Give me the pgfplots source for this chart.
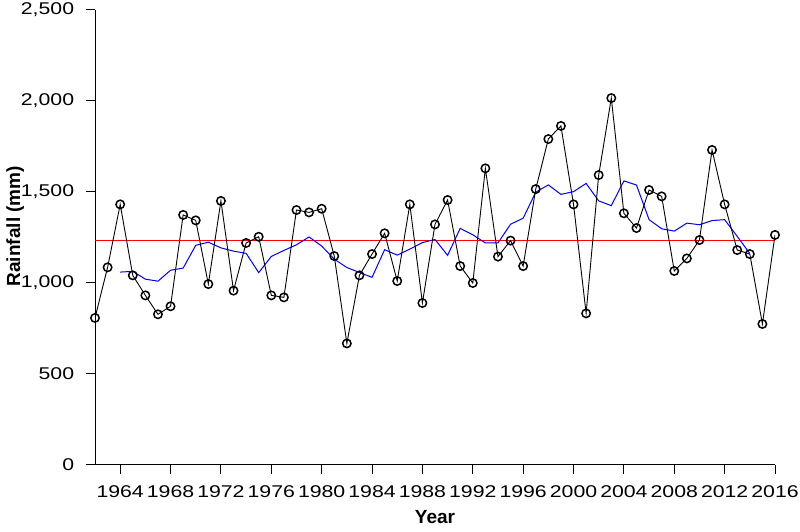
\documentclass[border=0pt]{standalone}
\usepackage{fontspec}
\setmainfont{Liberation Sans}
\newfontfamily\tickfont[FakeStretch=1.25]{Liberation Sans}
\usepackage{pgfplots}
\pgfplotsset{compat=1.18}
\begin{document}
\begin{tikzpicture}
\useasboundingbox (0,0) rectangle (800pt,532pt);
\begin{axis}[
 at={(95pt,67pt)}, anchor=south west,
 scale only axis, width=680pt, height=455pt,
 xmin=1962, xmax=2016, ymin=0, ymax=2500,
 axis x line*=bottom, axis y line*=left,
 axis line style={line width=1pt, black},
 tick align=outside, major tick length=9pt,
 tick style={line width=1pt, black},
 xtick={1964,1968,...,2016},
 ytick={0,500,...,2500},
 scaled y ticks=false,
 /pgf/number format/assume math mode=true,
 x tick label style={/pgf/number format/1000 sep=, font=\tickfont\fontsize{17}{20}\selectfont, inner sep=0pt, anchor=north, yshift=-11pt},
 y tick label style={/pgf/number format/1000 sep={,}, font=\tickfont\fontsize{17}{20}\selectfont, inner sep=0pt, anchor=east, xshift=-11.7pt},
 xlabel={Year}, ylabel={Rainfall (mm)},
 label style={font=\bfseries\fontsize{19}{22}\selectfont},
 x label style={at={(axis description cs:0.5,-0.129)}, anchor=base},
 y label style={at={(axis description cs:-0.1175,0.525)}, anchor=center},
]
\addplot[red, line width=1pt] coordinates {(1962,1234) (2016,1234)};
\addplot[blue, line width=1pt] coordinates {
(1964,1060) (1965,1064) (1966,1021) (1967,1010) (1968,1070) (1969,1082)
(1970,1207) (1971,1224) (1972,1193) (1973,1175) (1974,1163) (1975,1057)
(1976,1146) (1977,1179) (1978,1210) (1979,1253) (1980,1203) (1981,1131)
(1982,1085) (1983,1058) (1984,1031) (1985,1183) (1986,1153) (1987,1186)
(1988,1222) (1989,1239) (1990,1152) (1991,1300) (1992,1265) (1993,1220)
(1994,1220) (1995,1323) (1996,1356) (1997,1499) (1998,1539) (1999,1487)
(2000,1502) (2001,1547) (2002,1451) (2003,1425) (2004,1561) (2005,1538)
(2006,1348) (2007,1298) (2008,1285) (2009,1329) (2010,1320) (2011,1343)
(2012,1348) (2013,1256) (2014,1162)};
\addplot[black, line width=0.9pt, mark=o, mark size=4.2pt, mark options={line width=1.5pt, fill=none}] coordinates {
(1962,808) (1963,1086) (1964,1432) (1965,1042) (1966,932) (1967,828)
(1968,872) (1969,1374) (1970,1344) (1971,994) (1972,1451) (1973,958)
(1974,1220) (1975,1254) (1976,932) (1977,921) (1978,1401) (1979,1388)
(1980,1408) (1981,1148) (1982,668) (1983,1042) (1984,1159) (1985,1273)
(1986,1011) (1987,1432) (1988,890) (1989,1322) (1990,1456) (1991,1093)
(1992,1000) (1993,1630) (1994,1145) (1995,1233) (1996,1093) (1997,1516)
(1998,1791) (1999,1863) (2000,1432) (2001,833) (2002,1593) (2003,2016)
(2004,1383) (2005,1302) (2006,1511) (2007,1476) (2008,1066) (2009,1135)
(2010,1236) (2011,1731) (2012,1432) (2013,1181) (2014,1159) (2015,775)
(2016,1264)};
\end{axis}
\end{tikzpicture}
\end{document}
